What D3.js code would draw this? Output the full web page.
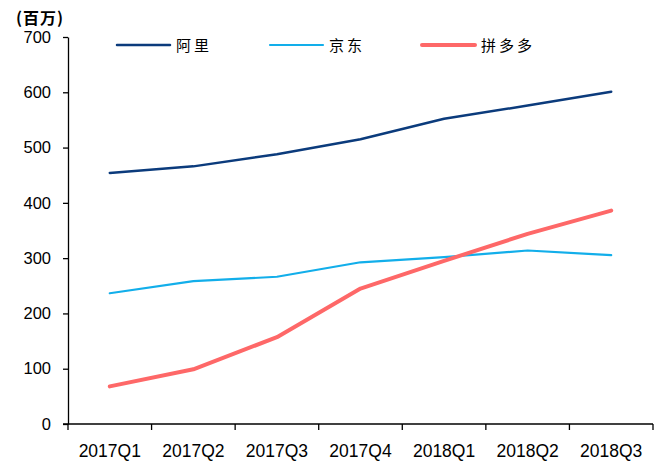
<!DOCTYPE html>
<html>
<head>
<meta charset="utf-8">
<script src="https://cdn.jsdelivr.net/npm/d3@7"></script>
<style>
  body { margin: 0; background: #fff; }
  svg { display: block; }
</style>
</head>
<body>
<script>
const width = 664;
const height = 461;

// quarters and active buyers (millions)
const quarters = ["2017Q1", "2017Q2", "2017Q3", "2017Q4", "2018Q1", "2018Q2", "2018Q3"];
const alibaba = [454, 466, 488, 515, 552, 576, 601];
const jd = [236.5, 258.3, 266.3, 292.5, 301.8, 313.8, 305.3];
const pdd = [68, 99, 157, 245, 295, 344, 386];
const yTicks = [0, 100, 200, 300, 400, 500, 600, 700];

const series = [
    { name: "阿里", values: alibaba, color: "#0b3b7c", width: 2.5 },
    { name: "京东", values: jd, color: "#12aeea", width: 2.2 },
    { name: "拼多多", values: pdd, color: "#fe6868", width: 4 }
];

const margin = { left: 68, right: 11, top: 37, bottom: 37 };

const svg = d3.select("body")
    .append("svg")
    .attr("width", width)
    .attr("height", height);

const x = d3.scaleBand()
    .domain(quarters)
    .range([margin.left, width - margin.right]);

const y = d3.scaleLinear()
    .domain([0, 700])
    .range([height - margin.bottom, margin.top]);

// y axis
const yAxis = svg.append("g")
    .attr("transform", "translate(" + margin.left + ",0)")
    .call(d3.axisLeft(y).tickValues(yTicks).tickSize(5).tickPadding(12).tickSizeOuter(0));
yAxis.select(".domain").attr("stroke", "#000").attr("stroke-width", 1.3);
yAxis.selectAll(".tick line").attr("stroke", "#000").attr("stroke-width", 1.3);
yAxis.selectAll("text")
    .style("font-family", "'Liberation Sans', Arial, sans-serif")
    .style("font-size", "16.5px")
    .attr("fill", "#000");

// x axis: ticks at band edges
const xAxis = svg.append("g")
    .attr("transform", "translate(0," + y(0) + ")");
xAxis.append("line")
    .attr("x1", margin.left - 5)
    .attr("x2", width - margin.right)
    .attr("stroke", "#000")
    .attr("stroke-width", 1.3);
const edges = quarters.map(d => x(d)).concat([x(quarters[quarters.length - 1]) + x.bandwidth()]);
xAxis.selectAll(".edge")
    .data(edges)
    .enter()
    .append("line")
    .attr("x1", d => d)
    .attr("x2", d => d)
    .attr("y1", 0)
    .attr("y2", 6)
    .attr("stroke", "#000")
    .attr("stroke-width", 1.3);
xAxis.selectAll(".lbl")
    .data(quarters)
    .enter()
    .append("text")
    .attr("x", d => x(d) + x.bandwidth() / 2)
    .attr("y", 33)
    .attr("text-anchor", "middle")
    .style("font-family", "'Liberation Sans', Arial, sans-serif")
    .style("font-size", "17.5px")
    .text(d => d);

// unit label
svg.append("text")
    .attr("x", 16)
    .attr("y", 24)
    .style("font-family", "'Noto Sans CJK SC', sans-serif")
    .style("font-size", "16px")
    .style("font-weight", "bold")
    .style("letter-spacing", "1px")
    .text("(百万)");

// lines
const line = d3.line()
    .x((d, i) => x(quarters[i]) + x.bandwidth() / 2)
    .y(d => y(d));

svg.selectAll(".series")
    .data(series)
    .enter()
    .append("path")
    .attr("d", d => line(d.values))
    .attr("fill", "none")
    .attr("stroke", d => d.color)
    .attr("stroke-width", d => d.width)
    .attr("stroke-linecap", "round")
    .attr("stroke-linejoin", "round");

// legend
const legendX = [117, 270, 422];
const legend = svg.selectAll(".legend")
    .data(series)
    .enter()
    .append("g")
    .attr("transform", (d, i) => "translate(" + legendX[i] + ",45)");
legend.append("line")
    .attr("x1", 0)
    .attr("x2", 53)
    .attr("stroke", d => d.color)
    .attr("stroke-width", d => d.width)
    .attr("stroke-linecap", "round");
legend.append("text")
    .attr("x", 59)
    .attr("y", 6)
    .style("font-family", "'Noto Sans CJK SC', sans-serif")
    .style("font-size", "15px")
    .style("letter-spacing", "3px")
    .text(d => d.name);
</script>
</body>
</html>
